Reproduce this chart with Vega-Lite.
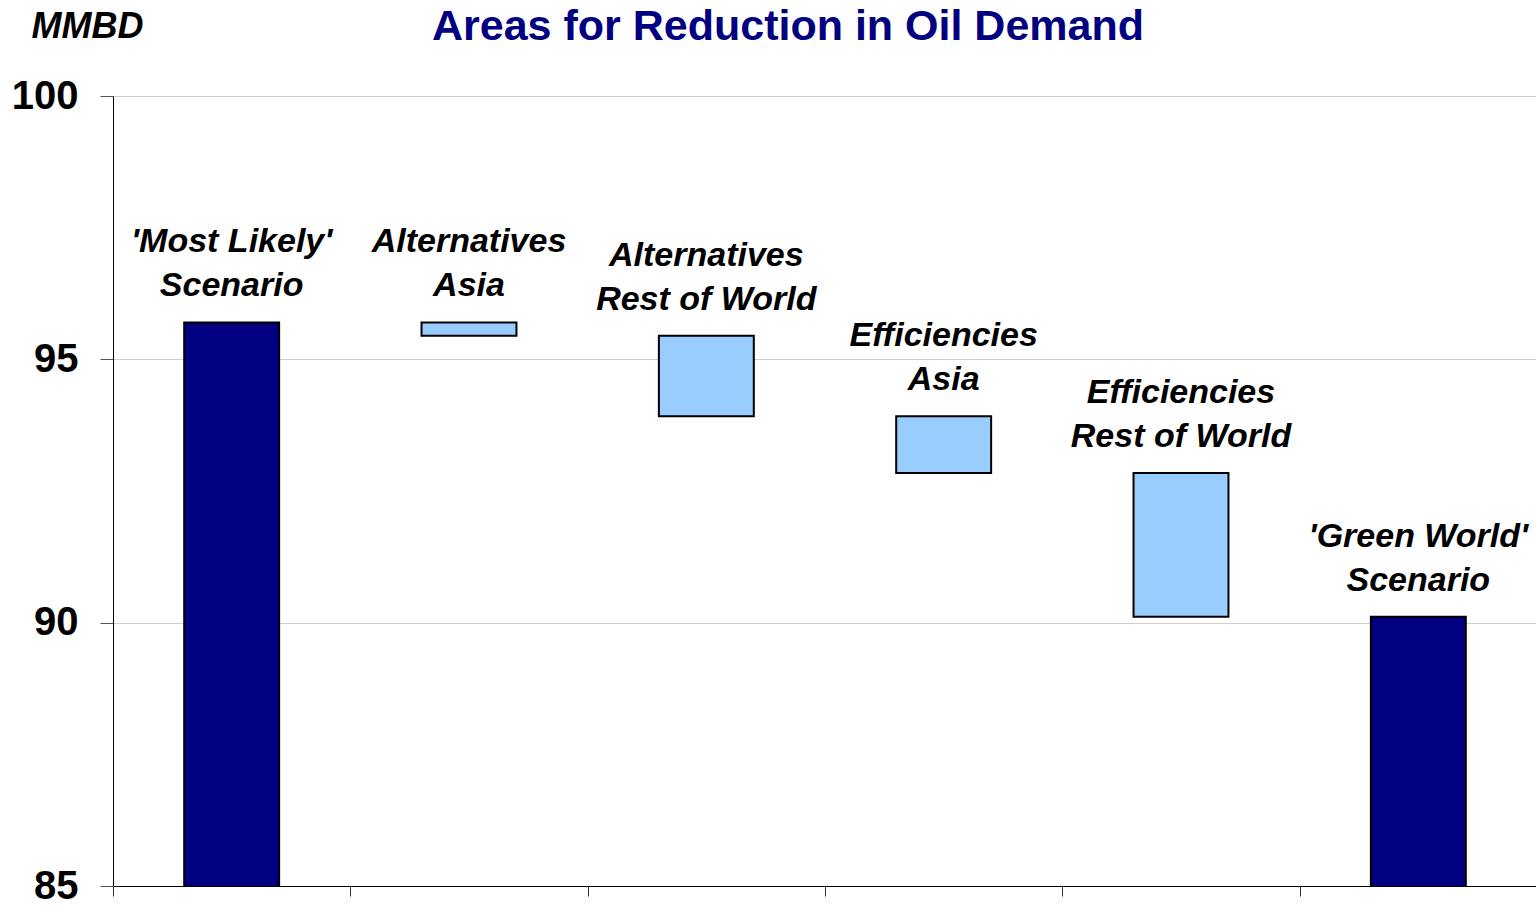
{
  "$schema": "https://vega.github.io/schema/vega-lite/v6.json",
  "width": 1424,
  "height": 790,
  "autosize": {"type": "none"},
  "padding": {"left": 113, "top": 96, "right": 0, "bottom": 19},
  "background": "white",
  "title": {
    "text": "Areas for Reduction in Oil Demand",
    "anchor": "middle",
    "frame": "group",
    "font": "Liberation Sans",
    "fontSize": 43,
    "fontWeight": "bold",
    "color": "#000080",
    "dx": -37,
    "offset": -75,
    "baseline": "alphabetic"
  },
  "config": {"view": {"stroke": null}},
  "data": {
    "values": [
      {"step": "Most Likely", "label": ["'Most Likely'", "Scenario"], "top": 95.7, "bottom": 0, "kind": "Scenario"},
      {"step": "Alternatives Asia", "label": ["Alternatives", "Asia"], "top": 95.7, "bottom": 95.45, "kind": "Reduction"},
      {"step": "Alternatives Rest of World", "label": ["Alternatives", "Rest of World"], "top": 95.45, "bottom": 93.92, "kind": "Reduction"},
      {"step": "Efficiencies Asia", "label": ["Efficiencies", "Asia"], "top": 93.92, "bottom": 92.84, "kind": "Reduction"},
      {"step": "Efficiencies Rest of World", "label": ["Efficiencies", "Rest of World"], "top": 92.84, "bottom": 90.11, "kind": "Reduction"},
      {"step": "Green World", "label": ["'Green World'", "Scenario"], "top": 90.11, "bottom": 0, "kind": "Scenario"}
    ]
  },
  "encoding": {
    "x": {
      "field": "step",
      "type": "nominal",
      "sort": null,
      "scale": {"paddingInner": 0, "paddingOuter": 0},
      "axis": {
        "title": null,
        "labels": false,
        "grid": false,
        "tickBand": "extent",
        "tickSize": 10,
        "tickColor": "#333333",
        "domainColor": "#000000",
        "domainWidth": 1
      }
    }
  },
  "layer": [
    {
      "mark": {"type": "bar", "clip": true, "stroke": "#000000", "strokeWidth": 2, "width": {"band": 0.4}},
      "encoding": {
        "y": {
          "field": "top",
          "type": "quantitative",
          "scale": {"domain": [85, 100], "zero": false, "nice": false},
          "axis": {
            "values": [85, 90, 95, 100],
            "grid": true,
            "gridColor": "#cfcfcf",
            "gridWidth": 1,
            "domainColor": "#000000",
            "tickColor": "#555555",
            "tickSize": 13,
            "labelFont": "Liberation Sans",
            "labelFontSize": 40,
            "labelFontWeight": "bold",
            "labelColor": "#000000",
            "labelPadding": 22,
            "labelBaseline": "middle",
            "title": "MMBD",
            "titleAngle": 0,
            "titleX": -26,
            "titleY": -59,
            "titleAlign": "center",
            "titleBaseline": "alphabetic",
            "titleFont": "Liberation Sans",
            "titleFontSize": 36,
            "titleFontStyle": "italic",
            "titleFontWeight": "bold",
            "titleColor": "#000000"
          }
        },
        "y2": {"field": "bottom"},
        "color": {
          "field": "kind",
          "type": "nominal",
          "scale": {"domain": ["Scenario", "Reduction"], "range": ["#000080", "#99CCFF"]},
          "legend": null
        }
      }
    },
    {
      "mark": {
        "type": "text",
        "font": "Liberation Sans",
        "fontSize": 34,
        "fontStyle": "italic",
        "fontWeight": "bold",
        "color": "#000000",
        "baseline": "bottom",
        "align": "center",
        "lineHeight": 44,
        "dy": -63
      },
      "encoding": {
        "y": {"field": "top", "type": "quantitative"},
        "text": {"field": "label"}
      }
    }
  ]
}
